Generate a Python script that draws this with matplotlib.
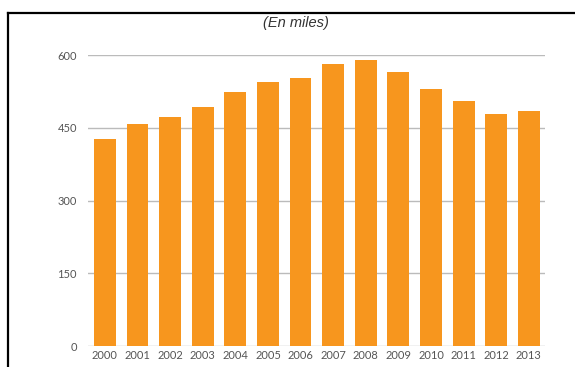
import matplotlib
matplotlib.use('Agg')
import matplotlib.pyplot as plt
from matplotlib.lines import Line2D

# Datos (en miles)
anios = ['2000', '2001', '2002', '2003', '2004', '2005', '2006',
         '2007', '2008', '2009', '2010', '2011', '2012', '2013']
valores = [426, 458, 472, 492, 524, 544, 552, 581, 590, 565, 529, 506, 478, 485]
marcas_y = [0, 150, 300, 450, 600]

plt.rcParams['font.family'] = ['Lato', 'DejaVu Sans']

fig = plt.figure(figsize=(5.75, 3.67), dpi=100)
ax = fig.add_axes([0.153, 0.057, 0.795, 0.793])

x = range(len(anios))
ax.bar(x, valores, width=0.67, color='#F7961E', zorder=2)

ax.set_ylim(0, 600)
ax.set_xlim(-0.52, 13.5)
ax.set_yticks(marcas_y)
ax.set_yticklabels([str(v) for v in marcas_y])
ax.set_xticks(list(x))
ax.set_xticklabels(anios)
ax.yaxis.grid(True, color='#BBBBBB', linewidth=1, zorder=0)
ax.tick_params(axis='both', length=0, labelsize=8, colors='#555555')
ax.tick_params(axis='y', pad=8)
ax.tick_params(axis='x', pad=3)
for s in ax.spines.values():
    s.set_visible(False)

# Subtítulo
fig.text(0.515, 0.937, '(En miles)', ha='center', va='center',
         fontsize=10.5, style='italic', color='#333333',
         family=['Liberation Sans', 'DejaVu Sans'])

# Marco negro (izquierda y arriba) de la captura
fig.add_artist(Line2D([8/575, 8/575], [0, 1 - 13/367], color='black',
                      linewidth=1.6, transform=fig.transFigure))
fig.add_artist(Line2D([8/575, 1], [1 - 13/367, 1 - 13/367], color='black',
                      linewidth=1.6, transform=fig.transFigure))

fig.savefig('out.png', dpi=100)
